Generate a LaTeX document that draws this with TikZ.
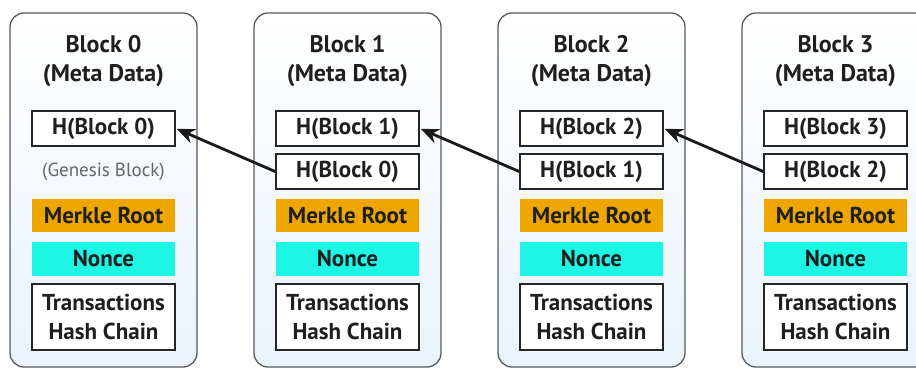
\documentclass[tikz,border=0pt]{standalone}
\usepackage{fontspec}
\setmainfont{PT Sans}
\usetikzlibrary{arrows.meta}
\definecolor{merkle}{HTML}{EEA700}
\definecolor{nonceC}{HTML}{1EF5E4}
\definecolor{blkfill}{HTML}{EAF2FB}
\definecolor{blkedge}{HTML}{555A60}
\tikzset{
  blk/.style={draw=blkedge, line width=1.3pt, rounded corners=14pt, top color=white, bottom color=blkfill},
  ttl/.style={font=\fontsize{24}{29}\selectfont\bfseries, align=center, text=black!88},
  hbox/.style={draw=black!85, line width=1.8pt, fill=white, minimum width=143pt, minimum height=35pt, inner sep=0pt, font=\fontsize{23}{24}\selectfont\bfseries, text=black!88},
  mbox/.style={fill=merkle, minimum width=143pt, minimum height=33pt, inner sep=0pt, font=\fontsize{23}{24}\selectfont\bfseries, text=black!88},
  nbox/.style={fill=nonceC, minimum width=143pt, minimum height=34pt, inner sep=0pt, font=\fontsize{23}{24}\selectfont\bfseries, text=black!88},
  tbox/.style={draw=black!85, line width=1.8pt, fill=white, minimum width=143pt, minimum height=66pt, inner sep=0pt, align=center, font=\fontsize{23}{29}\selectfont\bfseries, text=black!88},
  link/.style={line width=2.8pt, black!90, -{Stealth[length=18pt,width=15pt]}, shorten >=1pt}
}
\begin{document}
\begin{tikzpicture}[x=1pt,y=-1pt]
\useasboundingbox (0,0) rectangle (916,370);
\foreach \i in {0,1,2,3}{
  \pgfmathsetmacro{\L}{10+244*\i}
  \pgfmathsetmacro{\C}{\L+93.5}
  \draw[blk] (\L,13) rectangle (\L+187,367);
  \node[ttl] (t\i) at (\C,61.5) {Block \i\\(Meta Data)};
  \node[hbox] (ha\i) at (\C,128.5) {H(Block \i)};
  \node[mbox] (m\i) at (\C,215.5) {Merkle Root};
  \node[nbox] (n\i) at (\C,259) {Nonce};
  \node[tbox] (tr\i) at (\C,317) {Transactions\\Hash Chain};
}
\node[font=\fontsize{19}{20}\selectfont, text=black!60] (gen) at (103.5,171.5) {(Genesis Block)};
\foreach \i/\p in {1/0,2/1,3/2}{
  \pgfmathsetmacro{\C}{103.5+244*\i}
  \node[hbox] (hb\i) at (\C,171.5) {H(Block \p)};
  \draw[link] (hb\i.west) -- (ha\p.east);
}
\end{tikzpicture}
\end{document}
